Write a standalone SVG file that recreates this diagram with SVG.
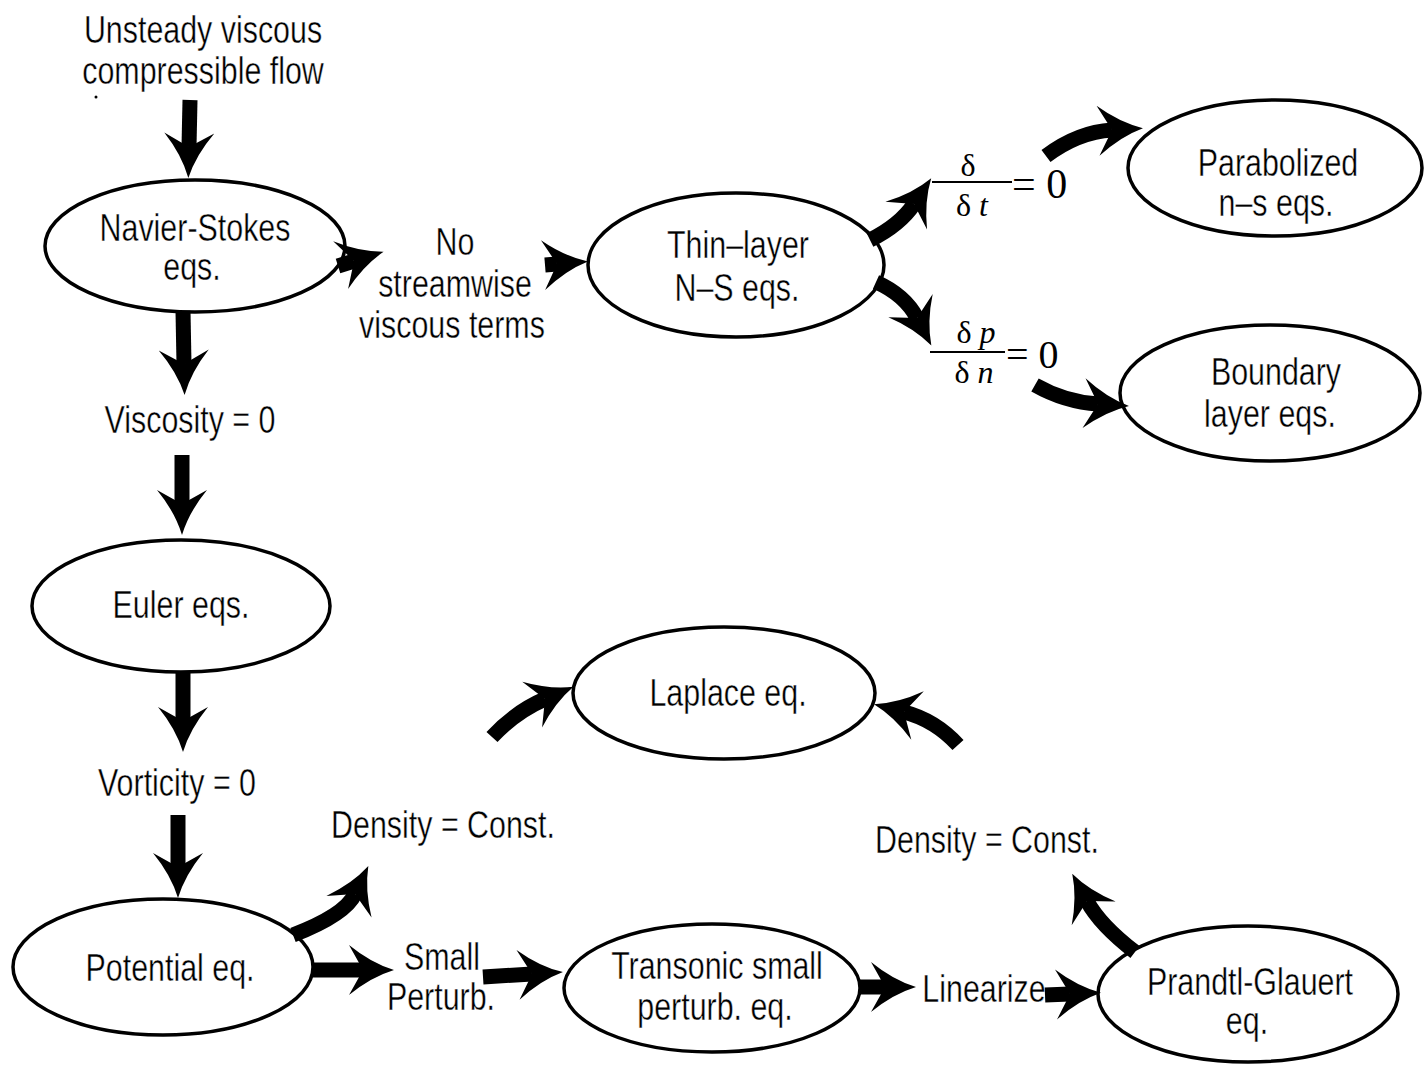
<svg xmlns="http://www.w3.org/2000/svg" width="1425" height="1065" viewBox="0 0 1425 1065">
  <style>
    .node ellipse { fill: #fff; stroke: #000; stroke-width: 3.5; }
    .lbl { font-family: "Liberation Sans", Arial, sans-serif; font-size: 38px; fill: #000; text-anchor: middle; stroke: #fff; stroke-width: 0.4px; }
    .math { font-family: "Liberation Serif", "Times New Roman", serif; fill: #000; }
    .conn path { fill: none; stroke: #000; stroke-width: 15; stroke-linecap: butt; marker-end: url(#head); }
  </style>
  <defs>
    <!-- barbed block arrowhead; reference point sits at the notch, tip is 31px ahead -->
    <marker id="head" markerUnits="userSpaceOnUse" markerWidth="90" markerHeight="90" refX="0" refY="0" orient="auto" overflow="visible">
      <path d="M31,0 Q8,-7 -14,-25 L0,0 L-14,25 Q8,7 31,0 Z" fill="#000"/>
    </marker>
  </defs>
  <rect width="1425" height="1065" fill="#fff"/>

  <!-- starting condition -->
  <g id="start">
    <text class="lbl" transform="translate(203,43) scale(0.8,1)">Unsteady viscous</text>
    <text class="lbl" transform="translate(203,84) scale(0.8,1)">compressible flow</text>
    <circle cx="96" cy="97" r="1.5" fill="#000"/>
  </g>

  <g id="navier-stokes" class="node">
    <ellipse cx="195" cy="246" rx="150" ry="66"/>
    <text class="lbl" transform="translate(195,241) scale(0.8,1)">Navier-Stokes</text>
    <text class="lbl" transform="translate(192,280) scale(0.8,1)">eqs.</text>
  </g>

  <g id="thin-layer" class="node">
    <ellipse cx="736" cy="265" rx="148" ry="72"/>
    <text class="lbl" transform="translate(738,258) scale(0.8,1)">Thin–layer</text>
    <text class="lbl" transform="translate(737,301) scale(0.8,1)">N–S eqs.</text>
  </g>

  <g id="parabolized" class="node">
    <ellipse cx="1275" cy="168" rx="147" ry="68"/>
    <text class="lbl" transform="translate(1278,176) scale(0.8,1)">Parabolized</text>
    <text class="lbl" transform="translate(1276,216) scale(0.8,1)">n–s eqs.</text>
  </g>

  <g id="boundary-layer" class="node">
    <ellipse cx="1270" cy="393" rx="150" ry="68"/>
    <text class="lbl" transform="translate(1276,385) scale(0.8,1)">Boundary</text>
    <text class="lbl" transform="translate(1270,427) scale(0.8,1)">layer eqs.</text>
  </g>

  <g id="euler" class="node">
    <ellipse cx="181" cy="606" rx="149" ry="66"/>
    <text class="lbl" transform="translate(181,618) scale(0.8,1)">Euler eqs.</text>
  </g>

  <g id="laplace" class="node">
    <ellipse cx="724" cy="693" rx="151" ry="66"/>
    <text class="lbl" transform="translate(728,706) scale(0.8,1)">Laplace eq.</text>
  </g>

  <g id="potential" class="node">
    <ellipse cx="163" cy="967" rx="150" ry="68"/>
    <text class="lbl" transform="translate(170,981) scale(0.8,1)">Potential eq.</text>
  </g>

  <g id="transonic" class="node">
    <ellipse cx="712" cy="988" rx="148" ry="64"/>
    <text class="lbl" transform="translate(717,979) scale(0.8,1)">Transonic small</text>
    <text class="lbl" transform="translate(715,1020) scale(0.8,1)">perturb. eq.</text>
  </g>

  <g id="prandtl-glauert" class="node">
    <ellipse cx="1248" cy="994" rx="150" ry="68"/>
    <text class="lbl" transform="translate(1250,995) scale(0.8,1)">Prandtl-Glauert</text>
    <text class="lbl" transform="translate(1247,1034) scale(0.8,1)">eq.</text>
  </g>

  <!-- condition labels -->
  <g id="conditions">
    <text class="lbl" transform="translate(455,255) scale(0.8,1)">No</text>
    <text class="lbl" transform="translate(455,297) scale(0.8,1)">streamwise</text>
    <text class="lbl" transform="translate(452,338) scale(0.8,1)">viscous terms</text>
    <text class="lbl" transform="translate(190,433) scale(0.8,1)">Viscosity = 0</text>
    <text class="lbl" transform="translate(177,796) scale(0.8,1)">Vorticity = 0</text>
    <text class="lbl" transform="translate(443,838) scale(0.8,1)">Density = Const.</text>
    <text class="lbl" transform="translate(987,853) scale(0.8,1)">Density = Const.</text>
    <text class="lbl" transform="translate(442,970) scale(0.8,1)">Small</text>
    <text class="lbl" transform="translate(441,1010) scale(0.8,1)">Perturb.</text>
    <text class="lbl" transform="translate(984,1002) scale(0.8,1)">Linearize</text>

    <!-- d/dt = 0 -->
    <text class="math" x="968" y="176" font-size="32" text-anchor="middle">δ</text>
    <line x1="932" y1="182" x2="1012" y2="182" stroke="#000" stroke-width="2"/>
    <text class="math" x="972" y="216" font-size="32" text-anchor="middle">δ <tspan font-style="italic">t</tspan></text>
    <text class="math" x="1012" y="198" font-size="42">= 0</text>

    <!-- dp/dn = 0 -->
    <text class="math" x="976" y="343" font-size="32" text-anchor="middle">δ <tspan font-style="italic">p</tspan></text>
    <line x1="930" y1="352" x2="1005" y2="352" stroke="#000" stroke-width="2"/>
    <text class="math" x="974" y="383" font-size="32" text-anchor="middle">δ <tspan font-style="italic">n</tspan></text>
    <text class="math" x="1006" y="368" font-size="40">= 0</text>
  </g>

  <!-- connectors -->
  <g id="connectors" class="conn">
    <path d="M190,100 L189,147"/>
    <path d="M183,311 L184,364"/>
    <path d="M182,455 L182,504"/>
    <path d="M183,672 L183,721"/>
    <path d="M178,815 L178,867"/>
    <path d="M338,266 L354,261"/>
    <path d="M545,265 L557,264"/>
    <path d="M870,240 Q900,225 914,204"/>
    <path d="M1046,156 Q1078,132 1112,130"/>
    <path d="M876,282 Q905,295 917,318"/>
    <path d="M1035,385 Q1065,402 1098,404"/>
    <path d="M293,935 Q345,915 355,894"/>
    <path d="M313,970 L363,970"/>
    <path d="M483,977 L532,974"/>
    <path d="M860,987 L885,987"/>
    <path d="M1045,995 L1070,994"/>
    <path d="M1135,952 Q1100,925 1087,901"/>
    <path d="M492,737 Q515,712 545,699"/>
    <path d="M958,745 Q935,720 904,712"/>
  </g>
</svg>
